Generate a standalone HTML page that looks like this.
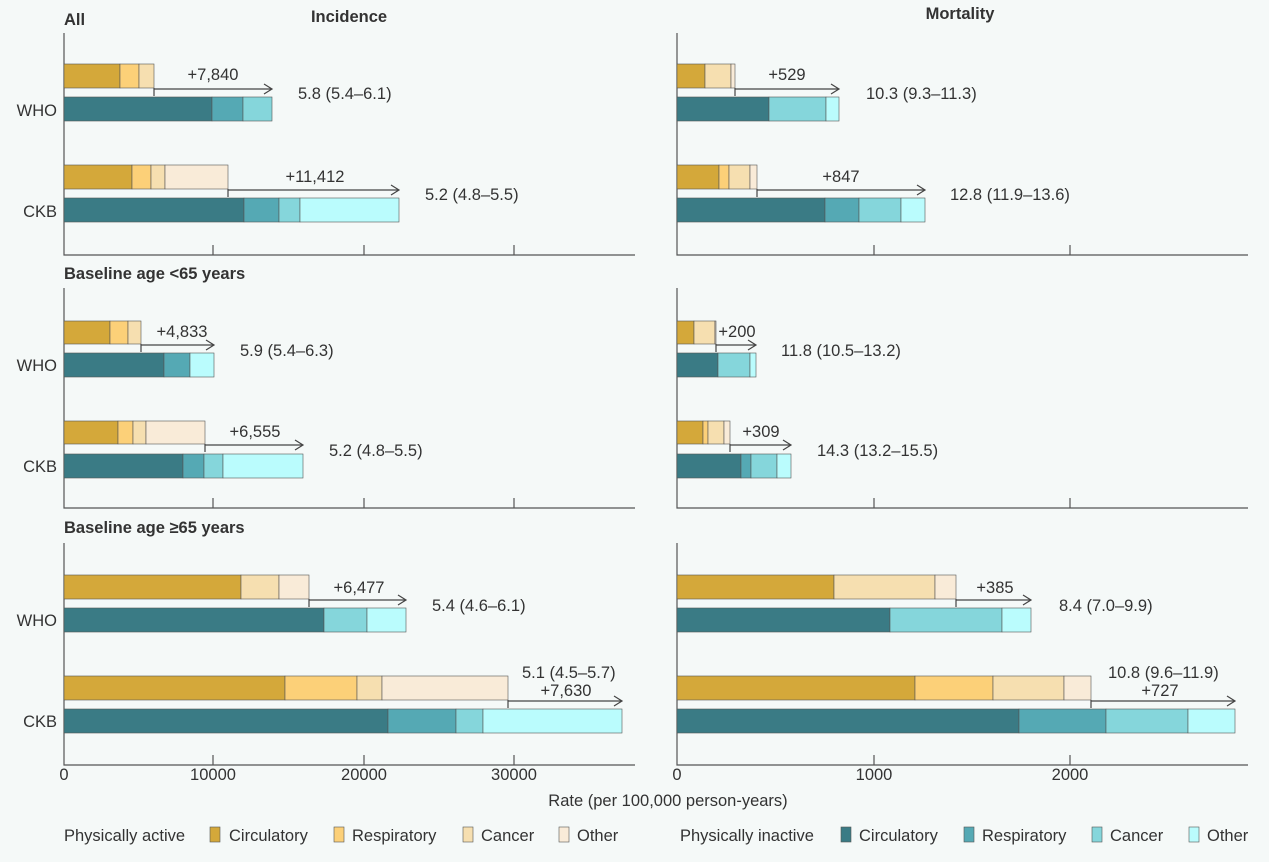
<!DOCTYPE html>
<html><head><meta charset="utf-8"><style>
html,body{margin:0;padding:0;background:#f5f9f8}
svg{display:block}
text{font-family:"Liberation Sans",sans-serif;fill:#333;font-size:16.5px}
.b{font-weight:bold}
rect{stroke:#555;stroke-width:0.6}
</style></head><body>
<svg width="1269" height="862" viewBox="0 0 1269 862">
<rect x="0" y="0" width="1269" height="862" fill="#f5f9f8" style="stroke:none"/>
<g style="stroke:none">
<text x="64" y="25" class="b" font-size="15">All</text>
<text x="349" y="22" text-anchor="middle" class="b" font-size="15">Incidence</text>
<text x="960" y="19" text-anchor="middle" class="b" font-size="15">Mortality</text>
<text x="64" y="279" class="b" font-size="15">Baseline age &lt;65 years</text>
<text x="64" y="533" class="b" font-size="15">Baseline age ≥65 years</text>
</g>
<g stroke="#555" stroke-width="1.2" fill="none">
<path d="M64 33V255H635M677 33V255H1248"/>
<path d="M64 288V508H635M677 288V508H1248"/>
<path d="M64 543V765H635M677 543V765H1248"/>
<path d="M213 245V255M364 245V255M514 245V255M874 245V255M1070 245V255"/>
<path d="M213 498V508M364 498V508M514 498V508M874 498V508M1070 498V508"/>
<path d="M213 755V765M364 755V765M514 755V765M874 755V765M1070 755V765"/>
</g>
<g style="stroke:none" text-anchor="middle">
<text x="64" y="780">0</text><text x="213" y="780">10000</text><text x="364" y="780">20000</text><text x="514" y="780">30000</text>
<text x="677" y="780">0</text><text x="874" y="780">1000</text><text x="1070" y="780">2000</text>
<text x="668" y="806">Rate (per 100,000 person-years)</text>
</g>
<g text-anchor="end">
<text x="57" y="116">WHO</text><text x="57" y="217">CKB</text>
<text x="57" y="371">WHO</text><text x="57" y="472">CKB</text>
<text x="57" y="626">WHO</text><text x="57" y="727">CKB</text>
</g>
<rect x="64" y="64" width="56" height="24" fill="#d4a83a"/><rect x="120" y="64" width="19" height="24" fill="#fcd078"/><rect x="139" y="64" width="15" height="24" fill="#f6dfb0"/>
<rect x="64" y="97" width="148" height="24" fill="#3a7b85"/><rect x="212" y="97" width="31" height="24" fill="#55a9b4"/><rect x="243" y="97" width="29" height="24" fill="#85d6db"/>
<rect x="64" y="165" width="68" height="24" fill="#d4a83a"/><rect x="132" y="165" width="19" height="24" fill="#fcd078"/><rect x="151" y="165" width="14" height="24" fill="#f6dfb0"/><rect x="165" y="165" width="63" height="24" fill="#f9ebd8"/>
<rect x="64" y="198" width="180" height="24" fill="#3a7b85"/><rect x="244" y="198" width="35" height="24" fill="#55a9b4"/><rect x="279" y="198" width="21" height="24" fill="#85d6db"/><rect x="300" y="198" width="99" height="24" fill="#bafcfd"/>
<rect x="677" y="64" width="28" height="24" fill="#d4a83a"/><rect x="705" y="64" width="26" height="24" fill="#f6dfb0"/><rect x="731" y="64" width="4" height="24" fill="#f9ebd8"/>
<rect x="677" y="97" width="92" height="24" fill="#3a7b85"/><rect x="769" y="97" width="57" height="24" fill="#85d6db"/><rect x="826" y="97" width="13" height="24" fill="#bafcfd"/>
<rect x="677" y="165" width="42" height="24" fill="#d4a83a"/><rect x="719" y="165" width="10" height="24" fill="#fcd078"/><rect x="729" y="165" width="21" height="24" fill="#f6dfb0"/><rect x="750" y="165" width="7" height="24" fill="#f9ebd8"/>
<rect x="677" y="198" width="148" height="24" fill="#3a7b85"/><rect x="825" y="198" width="34" height="24" fill="#55a9b4"/><rect x="859" y="198" width="42" height="24" fill="#85d6db"/><rect x="901" y="198" width="24" height="24" fill="#bafcfd"/>
<rect x="64" y="321" width="46" height="23" fill="#d4a83a"/><rect x="110" y="321" width="18" height="23" fill="#fcd078"/><rect x="128" y="321" width="13" height="23" fill="#f6dfb0"/>
<rect x="64" y="353" width="100" height="24" fill="#3a7b85"/><rect x="164" y="353" width="26" height="24" fill="#55a9b4"/><rect x="190" y="353" width="24" height="24" fill="#bafcfd"/>
<rect x="64" y="421" width="54" height="23" fill="#d4a83a"/><rect x="118" y="421" width="15" height="23" fill="#fcd078"/><rect x="133" y="421" width="13" height="23" fill="#f6dfb0"/><rect x="146" y="421" width="59" height="23" fill="#f9ebd8"/>
<rect x="64" y="454" width="119" height="24" fill="#3a7b85"/><rect x="183" y="454" width="21" height="24" fill="#55a9b4"/><rect x="204" y="454" width="19" height="24" fill="#85d6db"/><rect x="223" y="454" width="80" height="24" fill="#bafcfd"/>
<rect x="677" y="321" width="17" height="23" fill="#d4a83a"/><rect x="694" y="321" width="21" height="23" fill="#f6dfb0"/><rect x="715" y="321" width="1" height="23" fill="#f9ebd8"/>
<rect x="677" y="353" width="41" height="24" fill="#3a7b85"/><rect x="718" y="353" width="32" height="24" fill="#85d6db"/><rect x="750" y="353" width="6" height="24" fill="#bafcfd"/>
<rect x="677" y="421" width="26" height="23" fill="#d4a83a"/><rect x="703" y="421" width="5" height="23" fill="#fcd078"/><rect x="708" y="421" width="16" height="23" fill="#f6dfb0"/><rect x="724" y="421" width="6" height="23" fill="#f9ebd8"/>
<rect x="677" y="454" width="64" height="24" fill="#3a7b85"/><rect x="741" y="454" width="10" height="24" fill="#55a9b4"/><rect x="751" y="454" width="26" height="24" fill="#85d6db"/><rect x="777" y="454" width="14" height="24" fill="#bafcfd"/>
<rect x="64" y="575" width="177" height="24" fill="#d4a83a"/><rect x="241" y="575" width="38" height="24" fill="#f6dfb0"/><rect x="279" y="575" width="30" height="24" fill="#f9ebd8"/>
<rect x="64" y="608" width="260" height="24" fill="#3a7b85"/><rect x="324" y="608" width="43" height="24" fill="#85d6db"/><rect x="367" y="608" width="39" height="24" fill="#bafcfd"/>
<rect x="64" y="676" width="221" height="24" fill="#d4a83a"/><rect x="285" y="676" width="72" height="24" fill="#fcd078"/><rect x="357" y="676" width="25" height="24" fill="#f6dfb0"/><rect x="382" y="676" width="126" height="24" fill="#f9ebd8"/>
<rect x="64" y="709" width="324" height="24" fill="#3a7b85"/><rect x="388" y="709" width="68" height="24" fill="#55a9b4"/><rect x="456" y="709" width="27" height="24" fill="#85d6db"/><rect x="483" y="709" width="139" height="24" fill="#bafcfd"/>
<rect x="677" y="575" width="157" height="24" fill="#d4a83a"/><rect x="834" y="575" width="101" height="24" fill="#f6dfb0"/><rect x="935" y="575" width="21" height="24" fill="#f9ebd8"/>
<rect x="677" y="608" width="213" height="24" fill="#3a7b85"/><rect x="890" y="608" width="112" height="24" fill="#85d6db"/><rect x="1002" y="608" width="29" height="24" fill="#bafcfd"/>
<rect x="677" y="676" width="238" height="24" fill="#d4a83a"/><rect x="915" y="676" width="78" height="24" fill="#fcd078"/><rect x="993" y="676" width="71" height="24" fill="#f6dfb0"/><rect x="1064" y="676" width="27" height="24" fill="#f9ebd8"/>
<rect x="677" y="709" width="342" height="24" fill="#3a7b85"/><rect x="1019" y="709" width="87" height="24" fill="#55a9b4"/><rect x="1106" y="709" width="82" height="24" fill="#85d6db"/><rect x="1188" y="709" width="47" height="24" fill="#bafcfd"/>
<g stroke="#444" stroke-width="1.2" fill="none">
<path d="M154 88V96M154 89H272M264 84L272 89L264 94"/>
<path d="M228 189V197M228 190H399M391 185L399 190L391 195"/>
<path d="M735 88V96M735 89H839M831 84L839 89L831 94"/>
<path d="M757 189V197M757 190H925M917 185L925 190L917 195"/>
<path d="M141 344V352M141 345H214M206 340L214 345L206 350"/>
<path d="M205 444V452M205 445H303M295 440L303 445L295 450"/>
<path d="M716 344V352M716 345H756M748 340L756 345L748 350"/>
<path d="M730 444V452M730 445H791M783 440L791 445L783 450"/>
<path d="M309 599V607M309 600H406M398 595L406 600L398 605"/>
<path d="M508 700V708M508 701H622M614 696L622 701L614 706"/>
<path d="M956 599V607M956 600H1031M1023 595L1031 600L1023 605"/>
<path d="M1091 700V708M1091 701H1235M1227 696L1235 701L1227 706"/>
</g>
<g text-anchor="middle">
<text x="213" y="80">+7,840</text><text x="315" y="182">+11,412</text>
<text x="787" y="80">+529</text><text x="841" y="182">+847</text>
<text x="182" y="337">+4,833</text><text x="255" y="437">+6,555</text>
<text x="737" y="337">+200</text><text x="761" y="437">+309</text>
<text x="359" y="593">+6,477</text><text x="566" y="696">+7,630</text>
<text x="995" y="593">+385</text><text x="1160" y="696">+727</text>
</g>
<text x="298" y="99">5.8 (5.4–6.1)</text>
<text x="425" y="200">5.2 (4.8–5.5)</text>
<text x="866" y="99">10.3 (9.3–11.3)</text>
<text x="950" y="200">12.8 (11.9–13.6)</text>
<text x="240" y="356">5.9 (5.4–6.3)</text>
<text x="329" y="456">5.2 (4.8–5.5)</text>
<text x="781" y="356">11.8 (10.5–13.2)</text>
<text x="817" y="456">14.3 (13.2–15.5)</text>
<text x="432" y="611">5.4 (4.6–6.1)</text>
<text x="522" y="678">5.1 (4.5–5.7)</text>
<text x="1059" y="611">8.4 (7.0–9.9)</text>
<text x="1108" y="678">10.8 (9.6–11.9)</text>
<text x="64" y="841">Physically active</text>
<rect x="210" y="827" width="10" height="15" fill="#d4a83a"/><text x="229" y="841">Circulatory</text>
<rect x="334" y="827" width="10" height="15" fill="#fcd078"/><text x="352" y="841">Respiratory</text>
<rect x="463" y="827" width="10" height="15" fill="#f6dfb0"/><text x="481" y="841">Cancer</text>
<rect x="559" y="827" width="10" height="15" fill="#f9ebd8"/><text x="577" y="841">Other</text>
<text x="680" y="841">Physically inactive</text>
<rect x="841" y="827" width="10" height="15" fill="#3a7b85"/><text x="859" y="841">Circulatory</text>
<rect x="964" y="827" width="10" height="15" fill="#55a9b4"/><text x="982" y="841">Respiratory</text>
<rect x="1092" y="827" width="10" height="15" fill="#85d6db"/><text x="1110" y="841">Cancer</text>
<rect x="1189" y="827" width="10" height="15" fill="#bafcfd"/><text x="1207" y="841">Other</text>
</svg>
</body></html>
